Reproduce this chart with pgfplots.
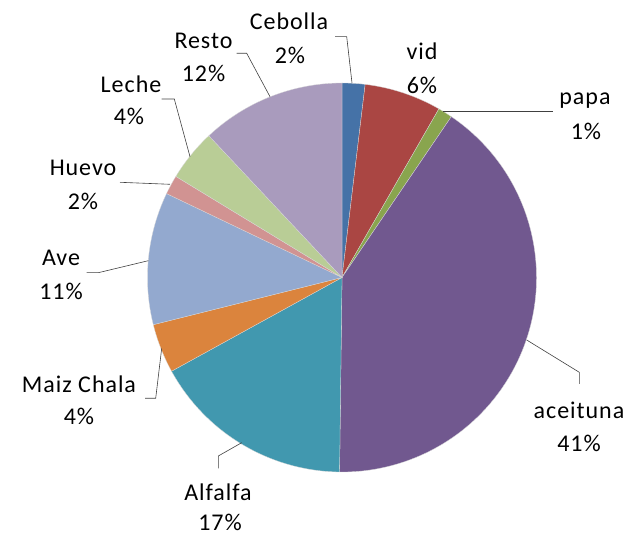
\documentclass[border=0pt]{standalone}
\usepackage{pgfplots}
\pgfplotsset{compat=1.18}
\usepackage{pgfplotstable}
\usepackage{fontspec}
\setmainfont{Carlito}[LetterSpace=4]
\definecolor{cCebolla}{HTML}{4572A7}
\definecolor{cvid}{HTML}{AA4643}
\definecolor{cpapa}{HTML}{89A54E}
\definecolor{caceituna}{HTML}{71588F}
\definecolor{cAlfalfa}{HTML}{4198AF}
\definecolor{cMaiz}{HTML}{DB843D}
\definecolor{cAve}{HTML}{93A9CF}
\definecolor{cHuevo}{HTML}{D19392}
\definecolor{cLeche}{HTML}{B9CD96}
\definecolor{cResto}{HTML}{A99BBD}

% share of each slice (percent), clockwise from 12 o'clock
\pgfplotstableread{
label     value  col
Cebolla   1.9    cCebolla
vid       6.4    cvid
papa      1.2    cpapa
aceituna  40.7   caceituna
Alfalfa   16.8   cAlfalfa
Maiz      4.1    cMaiz
Ave       11.0   cAve
Huevo     1.6    cHuevo
Leche     4.3    cLeche
Resto     12.0   cResto
}\piedata

\begin{document}
\begin{tikzpicture}
\begin{axis}[
  x=1pt, y=1pt,
  xmin=0, xmax=629, ymin=-538, ymax=0,
  hide axis, clip=false, scale only axis,
]
\path (axis cs:0,0) rectangle (axis cs:629,-538);
\def\cum{0}
\pgfplotsforeachungrouped \i in {0,...,9}{%
  \pgfplotstablegetelem{\i}{value}\of\piedata \let\sliceval\pgfplotsretval
  \pgfplotstablegetelem{\i}{col}\of\piedata \let\slicecol\pgfplotsretval
  \pgfmathsetmacro\sa{90-3.6*\cum}%
  \pgfmathsetmacro\sb{90-3.6*(\cum+\sliceval)}%
  \pgfmathsetmacro\cum{\cum+\sliceval}%
  \edef\cmd{\noexpand\fill[fill=\slicecol, draw=white!85!black, line width=0.3pt]
    (axis cs:342,-277.5) -- ++(\sa:194.5pt) arc[start angle=\sa, end angle=\sb, radius=194.5pt] -- cycle;}%
  \cmd
}

% leader lines
\begin{scope}[draw=black!75, line width=0.6pt]
\draw (axis cs:352,-83) -- (axis cs:346.7,-36.7) -- (axis cs:335,-36.7);
\draw (axis cs:270,-96.7) -- (axis cs:246.7,-53.3) -- (axis cs:236.7,-53.3);
\draw (axis cs:443.3,-111.7) -- (axis cs:553.3,-111.7);
\draw (axis cs:190,-156.7) -- (axis cs:174.3,-99) -- (axis cs:161.7,-99);
\draw (axis cs:170,-184.3) -- (axis cs:120,-182.3);
\draw (axis cs:148.3,-260.7) -- (axis cs:98.3,-272.7) -- (axis cs:86.7,-272.7);
\draw (axis cs:161.7,-348.3) -- (axis cs:155.7,-398.3) -- (axis cs:145,-398.3);
\draw (axis cs:241.7,-442.7) -- (axis cs:218.3,-456) -- (axis cs:218.3,-468.3);
\draw (axis cs:526.7,-340) -- (axis cs:579.3,-372.3) -- (axis cs:579.3,-384);
\end{scope}

% labels
\begin{scope}[every node/.style={anchor=base, inner sep=0pt, font=\fontsize{24}{28}\selectfont}]
\node at (axis cs:289,-30) {Cebolla};   \node at (axis cs:290,-63.3) {2\%};
\node at (axis cs:203.5,-48.3) {Resto}; \node at (axis cs:203.5,-81.7) {12\%};
\node at (axis cs:422,-60) {vid};       \node at (axis cs:422,-93.3) {6\%};
\node at (axis cs:585,-105) {papa};     \node at (axis cs:586,-140) {1\%};
\node at (axis cs:131,-92.3) {Leche};   \node at (axis cs:129,-125) {4\%};
\node at (axis cs:83,-176) {Huevo};     \node at (axis cs:83,-210) {2\%};
\node at (axis cs:61,-266) {Ave};       \node at (axis cs:61,-300) {11\%};
\node at (axis cs:79,-392.3) {Maiz Chala}; \node at (axis cs:79,-425) {4\%};
\node at (axis cs:218,-500.5) {Alfalfa}; \node at (axis cs:220,-531) {17\%};
\node at (axis cs:579,-418.3) {aceituna}; \node at (axis cs:579,-451.7) {41\%};
\end{scope}
\end{axis}
\end{tikzpicture}
\end{document}
